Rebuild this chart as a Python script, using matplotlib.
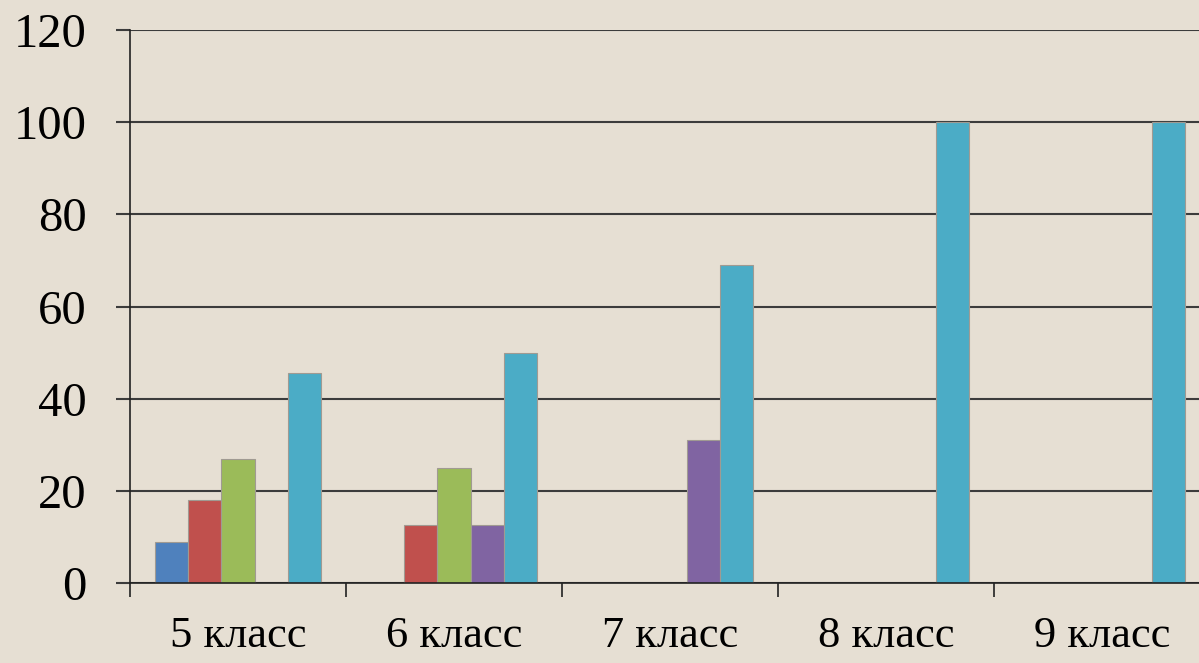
#!/usr/bin/env python3

import numpy
from matplotlib import pyplot

# share of pupils per class, five series (Office palette order)
klassy = ["5 класс", "6 класс", "7 класс", "8 класс", "9 класс"]
ryad1 = [9, 0, 0, 0, 0]
ryad2 = [18, 12.5, 0, 0, 0]
ryad3 = [27, 25, 0, 0, 0]
ryad4 = [0, 12.5, 31, 0, 0]
ryad5 = [45.5, 50, 69, 100, 100]

ryady = [ryad1, ryad2, ryad3, ryad4, ryad5]
colors = ["#4f81bd", "#c0504d", "#9bbb59", "#8064a2", "#4bacc6"]

bg = "#e6dfd3"
pyplot.rcParams["font.family"] = ["Liberation Serif", "DejaVu Serif"]

fig = pyplot.figure(figsize=(11.99, 6.63), dpi=100, facecolor=bg)
# axes run past the right edge of the picture, like the original slide
ax = fig.add_axes([130 / 1199, 80 / 663, 1080 / 1199, 553 / 663])
ax.set_facecolor(bg)

x = numpy.arange(len(klassy))
width = 1 / (5 + 1.5)  # excel gap width 150%
for i, (vals, col) in enumerate(zip(ryady, colors)):
    vals = numpy.array(vals, dtype=float)
    vals[vals == 0] = numpy.nan
    ax.bar(x - 2.5 * width + (i + 0.5) * width, vals, width,
           color=col, edgecolor="#a09a92", linewidth=0.8, zorder=3)

ax.set_xlim(-0.5, len(klassy) - 0.5)
ax.set_ylim(0, 120)
ax.set_yticks(range(0, 121, 20))
ax.yaxis.grid(True, color="#3c3c3c", linewidth=1.5, zorder=1)

# category labels centered, ticks on boundaries
ax.set_xticks(x)
ax.set_xticklabels(klassy, fontsize=32)
ax.set_xticks(numpy.arange(-0.5, len(klassy), 1), minor=True)
ax.tick_params(axis="x", which="major", length=0, pad=24)
ax.tick_params(axis="x", which="minor", length=10, width=1.2, color="#222222")
ax.tick_params(axis="y", length=10, width=1.5, color="#3c3c3c",
               labelsize=35, pad=21)

for s in ["top", "right"]:
    ax.spines[s].set_visible(False)
for s in ["left", "bottom"]:
    ax.spines[s].set_color("#222222")
    ax.spines[s].set_linewidth(1.2)
    ax.spines[s].set_zorder(4)

pyplot.savefig("out.png", dpi=100, facecolor=bg)
